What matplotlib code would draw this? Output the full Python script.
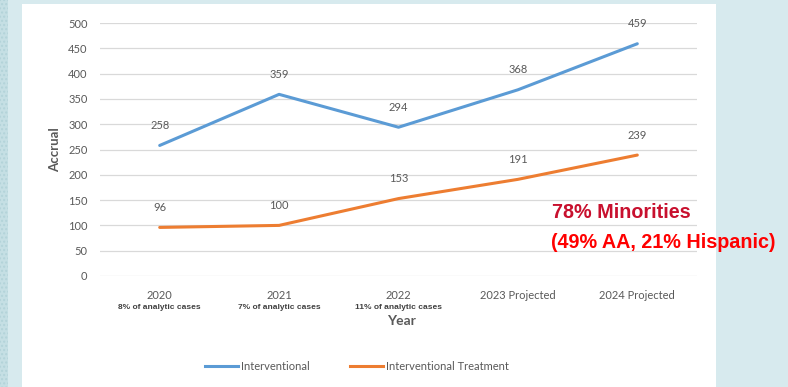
import matplotlib
matplotlib.use("Agg")
import matplotlib.pyplot as plt
from matplotlib.patches import Rectangle

years = ["2020", "2021", "2022", "2023 Projected", "2024 Projected"]
sub_labels = ["8% of analytic cases", "7% of analytic cases", "11% of analytic cases", "", ""]
interventional = [258, 359, 294, 368, 459]
treatment = [96, 100, 153, 191, 239]
series_names = ["Interventional", "Interventional Treatment"]
yticks = [0, 50, 100, 150, 200, 250, 300, 350, 400, 450, 500]

W, H = 788, 387
fig = plt.figure(figsize=(W / 100, H / 100), dpi=100)
fig.patch.set_facecolor("#d7eaee")

# textured left strip
fig.add_artist(Rectangle((0, 0), 8 / W, 1, transform=fig.transFigure,
                         facecolor="#c5dfe4", edgecolor="#b3d3d9", hatch="....", lw=0, zorder=0))
# white panel
fig.add_artist(Rectangle((22 / W, 0), (716 - 22) / W, 1 - 4 / H, transform=fig.transFigure,
                         facecolor="white", edgecolor="none", zorder=0))

ax = fig.add_axes([100 / W, 1 - 276 / H, (697 - 100) / W, (276 - 23) / H])
ax.set_facecolor("none")
x = list(range(len(years)))
ax.plot(x, interventional, color="#5b9bd5", lw=2.2, solid_capstyle="round", zorder=3)
ax.plot(x, treatment, color="#ed7d31", lw=2.2, solid_capstyle="round", zorder=3)

for xi, v in zip(x, interventional):
    ax.annotate(str(v), (xi, v), xytext=(0, 20), textcoords="offset pixels",
                ha="center", va="center", fontsize=8, color="#595959", family="Lato")
for xi, v in zip(x, treatment):
    ax.annotate(str(v), (xi, v), xytext=(0, 20), textcoords="offset pixels",
                ha="center", va="center", fontsize=8, color="#595959", family="Lato")

ax.set_xlim(-0.5, len(years) - 0.5)
ax.set_ylim(0, 500)
ax.set_yticks(yticks)
ax.set_yticklabels([str(t) for t in yticks], fontsize=8, color="#595959", family="Lato")
ax.set_xticks(x)
ax.set_xticklabels(years, fontsize=8, color="#595959", family="Lato")
ax.tick_params(length=0, pad=9)
ax.tick_params(axis="x", pad=10)
for s in ax.spines.values():
    s.set_visible(False)
ax.grid(axis="y", color="#d9d9d9", lw=0.9)
ax.set_axisbelow(True)

for xi, s in zip(x, sub_labels):
    if s:
        ax.text(xi, -0.125, s, transform=ax.get_xaxis_transform(), ha="center", va="center",
                fontsize=6.0, fontweight="bold", color="#404040", family="Liberation Sans")

fig.text(401 / W, 1 - 321 / H, "Year", ha="center", va="center", fontsize=10,
         color="#595959", family="Lato", fontweight="bold")
fig.text(55 / W, 1 - 150 / H, "Accrual", ha="center", va="center", rotation=90, fontsize=9.5,
         color="#595959", family="Lato", fontweight="bold")

# legend
ly = 1 - 366 / H
fig.add_artist(plt.Line2D([205 / W, 238 / W], [ly, ly], color="#5b9bd5", lw=2.2))
fig.text(241 / W, ly, series_names[0], ha="left", va="center", fontsize=8, color="#595959", family="Lato")
fig.add_artist(plt.Line2D([350 / W, 383 / W], [ly, ly], color="#ed7d31", lw=2.2))
fig.text(386 / W, ly, series_names[1], ha="left", va="center", fontsize=8, color="#595959", family="Lato")

fig.text(552 / W, 1 - 213 / H, "78% Minorities", ha="left", va="center", fontsize=14.2,
         fontweight="bold", color="#c8102e", family="Liberation Sans")
fig.text(551 / W, 1 - 243 / H, "(49% AA, 21% Hispanic)", ha="left", va="center", fontsize=14.2,
         fontweight="bold", color="#ff0000", family="Liberation Sans")

fig.savefig("out.png", dpi=100, facecolor=fig.get_facecolor())
